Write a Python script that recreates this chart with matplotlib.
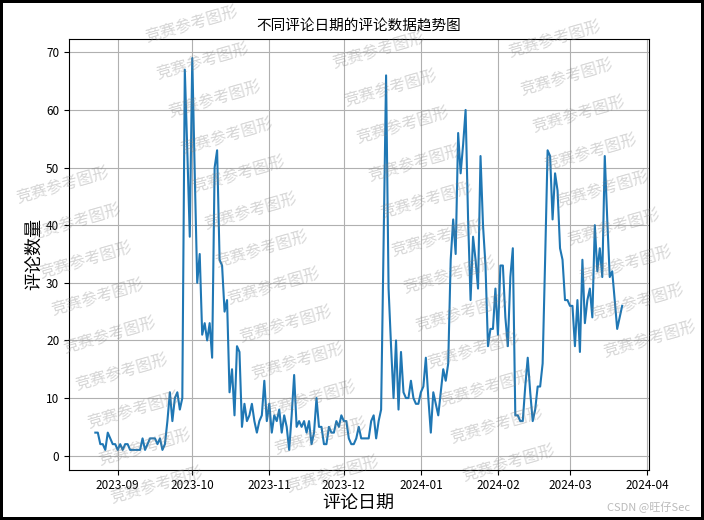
import pandas as pd
import numpy as np
import matplotlib.pyplot as plt
import matplotlib.dates as mdates

plt.rcParams['font.family'] = ['Noto Sans CJK SC', 'DejaVu Sans']
plt.rcParams['axes.unicode_minus'] = False

## daily comment counts, first day 2023-08-23
start_date = '2023-08-23'
counts = [
    4, 4, 2, 2, 1, 4, 3, 2, 2, 1,
    2, 1, 2, 2, 1, 1, 1, 1, 1, 3,
    1, 2, 3, 3, 3, 2, 3, 1, 2, 6,
    11, 6, 10, 11, 8, 10, 67, 53, 38, 69,
    49, 30, 35, 21, 23, 20, 23, 17, 50, 53,
    34, 33, 25, 27, 11, 15, 7, 19, 18, 5,
    9, 6, 7, 9, 6, 4, 6, 7, 13, 6,
    9, 4, 7, 6, 8, 4, 7, 5, 1, 7,
    14, 5, 6, 5, 6, 4, 6, 2, 4, 10,
    5, 5, 2, 2, 5, 4, 4, 6, 5, 7,
    6, 6, 3, 2, 2, 3, 5, 3, 3, 3,
    3, 6, 7, 3, 6, 8, 37, 66, 29, 19,
    10, 20, 8, 18, 11, 10, 10, 13, 10, 9,
    9, 11, 12, 17, 10, 4, 11, 9, 7, 11,
    15, 13, 16, 34, 41, 35, 56, 49, 54, 60,
    41, 27, 38, 34, 29, 52, 40, 33, 19, 22,
    22, 29, 21, 33, 33, 24, 19, 31, 36, 7,
    7, 6, 6, 12, 17, 11, 6, 8, 12, 12,
    16, 34, 53, 52, 41, 49, 46, 36, 34, 27,
    27, 26, 26, 19, 27, 18, 34, 23, 27, 29,
    24, 40, 32, 36, 31, 52, 41, 31, 32, 27,
    22, 24, 26,
]
dates = pd.date_range(start_date, periods=len(counts), freq='D')

title = '不同评论日期的评论数据趋势图'
xlabel = '评论日期'
ylabel = '评论数量'
watermark = '竞赛参考图形'
credit = 'CSDN @旺仔Sec'

W, H = 704, 520
fig = plt.figure(figsize=(W / 100, H / 100), dpi=100, edgecolor='black', linewidth=3)
ax = fig.add_axes([69 / W, 1 - 469.5 / H, (648.5 - 69) / W, (469.5 - 38.5) / H])

ax.plot(dates, counts, color='#1f77b4', linewidth=1.5)
ax.set_title(title, fontsize=10.5)
ax.set_xlabel(xlabel, fontsize=13, labelpad=2)
ax.set_ylabel(ylabel, fontsize=13, labelpad=2)
ax.xaxis.set_major_locator(mdates.MonthLocator())
ax.xaxis.set_major_formatter(mdates.DateFormatter('%Y-%m'))
ax.tick_params(labelsize=8.5)
ax.grid(True)

## tiled watermark (only the copies that fit on the canvas)
for c in range(-3, 4):
    for k in range(-4, 16):
        x = 215 + 176 * c + 11.8 * k
        y = 100 - 11 * c + 37.5 * k
        if 52 < x < W - 52 and 24 < y < H - 24:
            fig.text(x / W, 1 - y / H, watermark, fontsize=11.5, color='gray',
                     alpha=0.32, rotation=16, ha='center', va='center',
                     rotation_mode='anchor')

fig.text(690 / W, 1 - 507 / H, credit, fontsize=8, color='#bbbbbb',
         ha='right', va='center')

plt.savefig('out.png', dpi=100)
